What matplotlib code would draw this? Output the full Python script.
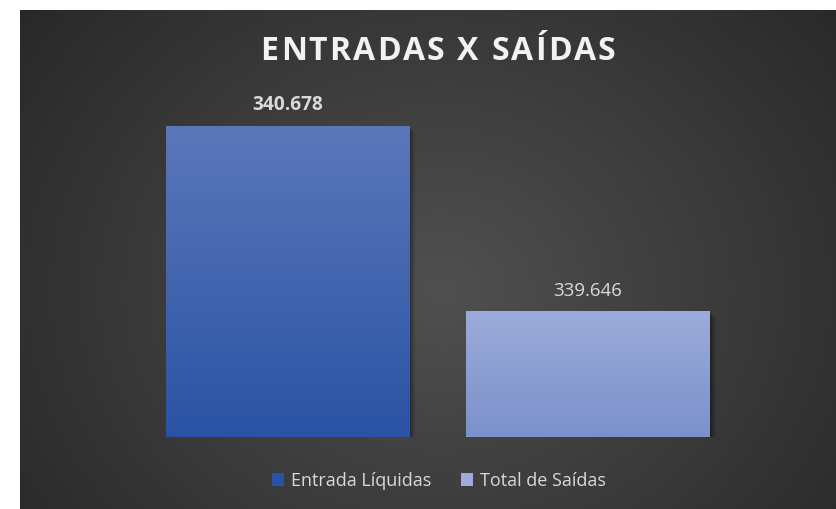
import numpy as np
import matplotlib.pyplot as plt
from matplotlib.colors import LinearSegmentedColormap
from matplotlib.patches import Rectangle

plt.rcParams["font.family"] = ["Open Sans", "DejaVu Sans"]

# Dados do gráfico
categorias = ["Entrada Líquidas", "Total de Saídas"]
valores = [340.678, 339.646]
rotulos = ["340.678", "339.646"]
titulo = "ENTRADAS X SAÍDAS"

cores_topo = ["#5b77ba", "#9cacda"]
cores_base = ["#2a53a4", "#7b91cb"]

W, H = 837, 509
fig = plt.figure(figsize=(W / 100, H / 100), dpi=100)
fig.patch.set_facecolor("white")

# Fundo escuro com gradiente radial
fundo = fig.add_axes([20 / W, 0, (W - 20) / W, (H - 10) / H])
fundo.set_axis_off()
yy, xx = np.mgrid[0:499, 0:817]
cx, cy = 420, 280
r = np.sqrt(((xx - cx) / 560) ** 2 + ((yy - cy) / 480) ** 2)
r = np.clip(r, 0, 1)
cmap_fundo = LinearSegmentedColormap.from_list("fundo", ["#505050", "#262626"])
fundo.imshow(r, cmap=cmap_fundo, vmin=0, vmax=1, aspect="auto",
             extent=[0, 1, 0, 1], origin="upper")
fundo.set_xlim(0, 1)
fundo.set_ylim(0, 1)

# Eixo das barras
esq, dir_ = 137, 738.5
base, topo = 437, 125.7
ax = fig.add_axes([esq / W, (H - base) / H, (dir_ - esq) / W, (base - topo) / H])
ax.set_facecolor("none")
ymin = 338.944
ax.set_axis_off()

x = np.arange(len(categorias))
barras = ax.bar(x, np.array(valores) - ymin, bottom=ymin, width=0.809,
                color="none", edgecolor="none")

for i, b in enumerate(barras):
    x0, w = b.get_x(), b.get_width()
    y0, h = b.get_y(), b.get_height()
    # sombra suave
    for k, a in [(3, 0.10), (2, 0.14), (1, 0.18)]:
        dx = k * 2.0 / 300.5
        dy = k * 2.0 * (valores[0] - ymin) / (base - topo)
        ax.add_patch(Rectangle((x0 + dx, y0 - dy), w, h, facecolor="black",
                               alpha=a, edgecolor="none", zorder=1))
    cmap = LinearSegmentedColormap.from_list("g%d" % i, [cores_base[i], cores_topo[i]])
    grad = np.linspace(0, 1, 256).reshape(-1, 1)
    im = ax.imshow(grad, cmap=cmap, aspect="auto", origin="lower",
                   extent=[x0, x0 + w, y0, y0 + h], zorder=2)
    rect = Rectangle((x0, y0), w, h, facecolor="none", edgecolor="none",
                     transform=ax.transData)
    ax.add_patch(rect)
    im.set_clip_path(rect)

ax.set_xlim(-0.5, 1.5)
ax.set_ylim(ymin, valores[0])

# Rótulos de valores
ax.annotate(rotulos[0], (x[0], valores[0]), xytext=(0, 7.5),
            textcoords="offset points", ha="center", va="bottom",
            fontsize=13.8, fontweight="bold", color="#d9d9d9")
ax.annotate(rotulos[1], (x[1], valores[1]), xytext=(0, 8),
            textcoords="offset points", ha="center", va="bottom",
            fontsize=13.5, color="#d9d9d9")

# Título com espaçamento entre letras
renderer = fig.canvas.get_renderer()
espaco = 2.1
larguras = []
for ch in titulo:
    t = fig.text(0, 0, ch if ch != " " else "A A", fontsize=23, fontweight="bold")
    larg = t.get_window_extent(renderer).width
    if ch == " ":
        t2 = fig.text(0, 0, "AA", fontsize=23, fontweight="bold")
        larg = larg - t2.get_window_extent(renderer).width
        t2.remove()
    t.remove()
    larguras.append(larg)
total = sum(larguras) + espaco * (len(titulo) - 1)
xpos = 438 - total / 2
for ch, larg in zip(titulo, larguras):
    if ch != " ":
        fig.text(xpos / W, 1 - 52 / H, ch, ha="left", va="center",
                 fontsize=23, fontweight="bold", color="#f2f2f2")
    xpos += larg + espaco

# Legenda
handles = [Rectangle((0, 0), 1, 1, facecolor=cores_base[0]),
           Rectangle((0, 0), 1, 1, facecolor=cores_topo[1])]
leg = fig.legend(handles, categorias, loc="center", bbox_to_anchor=(439 / W, 1 - 481 / H),
                 ncol=2, frameon=False, fontsize=13, labelcolor="#d9d9d9",
                 handlelength=0.7, handleheight=0.7, handletextpad=0.4,
                 columnspacing=1.6)

fig.savefig("out.png", dpi=100, facecolor=fig.get_facecolor())
